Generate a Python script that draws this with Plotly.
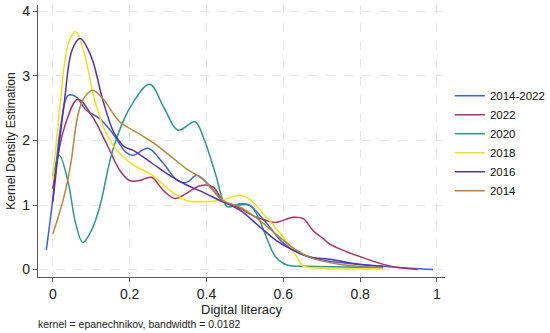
import plotly.graph_objects as go

names = ["2014-2022", "2022", "2020", "2018", "2016", "2014"]
colors = ["#3f63e0", "#a8346a", "#2f9a86", "#f0e21a", "#5232b0", "#b8873c"]

x_all = [-0.017, 0.0, 0.02, 0.04, 0.06, 0.087, 0.122, 0.156, 0.19, 0.208, 0.248, 0.287, 0.325, 0.348,
         0.374, 0.39, 0.425, 0.44, 0.47, 0.51, 0.556, 0.60, 0.643, 0.687, 0.72, 0.78, 0.86, 0.93, 0.99]
y_all = [0.30, 1.1, 2.2, 2.7, 2.68, 2.47, 2.34, 2.11, 1.82, 1.77, 1.88, 1.65, 1.38, 1.35,
         1.46, 1.41, 1.18, 1.07, 1.0, 1.0, 0.72, 0.41, 0.25, 0.17, 0.13, 0.09, 0.05, 0.02, 0.0]

x_2022 = [0, 0.03, 0.065, 0.1, 0.14, 0.174, 0.2, 0.226, 0.257, 0.287, 0.318, 0.348, 0.383, 0.417,
          0.443, 0.487, 0.52, 0.556, 0.58, 0.626, 0.652, 0.678, 0.704, 0.72, 0.8, 0.88, 0.95]
y_2022 = [1.25, 2.2, 2.64, 2.4, 1.95, 1.54, 1.38, 1.38, 1.43, 1.23, 1.1, 1.18, 1.3, 1.28,
          1.07, 0.95, 0.84, 0.76, 0.73, 0.81, 0.79, 0.6, 0.48, 0.4, 0.2, 0.05, 0.0]

x_2020 = [0, 0.017, 0.04, 0.06, 0.078, 0.1, 0.122, 0.156, 0.2, 0.252, 0.29, 0.326, 0.37, 0.395,
          0.404, 0.426, 0.443, 0.456, 0.487, 0.513, 0.535, 0.556, 0.58, 0.61, 0.67, 0.76, 0.86]
y_2020 = [1.45, 1.77, 1.35, 0.7, 0.42, 0.6, 0.97, 1.85, 2.5, 2.87, 2.5, 2.16, 2.29, 2.0,
          1.85, 1.43, 1.07, 0.97, 1.02, 1.0, 0.81, 0.5, 0.2, 0.07, 0.05, 0.04, 0.03]

x_2018 = [0, 0.02, 0.04, 0.059, 0.08, 0.11, 0.14, 0.174, 0.218, 0.26, 0.304, 0.348, 0.382, 0.435,
          0.487, 0.51, 0.556, 0.60, 0.636, 0.65, 0.7, 0.86]
y_2018 = [1.4, 2.6, 3.5, 3.69, 3.4, 2.6, 2.1, 1.80, 1.59, 1.46, 1.23, 1.07, 1.05, 1.07,
          1.15, 1.1, 0.81, 0.5, 0.19, 0.06, 0.02, 0.01]

x_2016 = [0, 0.03, 0.05, 0.071, 0.1, 0.13, 0.16, 0.187, 0.208, 0.26, 0.304, 0.348, 0.383, 0.435,
          0.487, 0.539, 0.582, 0.626, 0.67, 0.72, 0.8, 0.86]
y_2016 = [1.05, 2.6, 3.4, 3.58, 3.3, 2.63, 2.11, 1.9, 1.85, 1.64, 1.46, 1.31, 1.22, 1.07,
          0.92, 0.66, 0.45, 0.3, 0.19, 0.16, 0.08, 0.05]

x_2014 = [0, 0.03, 0.048, 0.064, 0.08, 0.104, 0.13, 0.174, 0.226, 0.26, 0.304, 0.348, 0.39, 0.443,
          0.487, 0.539, 0.591, 0.634, 0.678, 0.75, 0.86]
y_2014 = [0.55, 1.15, 1.69, 2.36, 2.65, 2.78, 2.65, 2.29, 2.1, 1.97, 1.77, 1.56, 1.4, 1.07,
          0.97, 0.76, 0.5, 0.3, 0.17, 0.08, 0.03]

xs = [x_all, x_2022, x_2020, x_2018, x_2016, x_2014]
ys = [y_all, y_2022, y_2020, y_2018, y_2016, y_2014]

x_ticks = [0, 0.2, 0.4, 0.6, 0.8, 1]
x_ticklabels = ["0", "0.2", "0.4", "0.6", "0.8", "1"]
y_ticks = [0, 1, 2, 3, 4]

fig = go.Figure()
for n, c, x, y in zip(names, colors, xs, ys):
    fig.add_trace(go.Scatter(x=x, y=y, name=n, mode="lines",
                             line=dict(color=c, width=1.5, shape="spline", smoothing=1.0)))

font = "Liberation Sans, Arial, sans-serif"
fig.update_layout(
    width=550, height=333,
    margin=dict(l=38, r=105, t=5, b=56, autoexpand=False),
    paper_bgcolor="white", plot_bgcolor="white",
    font=dict(family=font, size=13, color="#222"),
    showlegend=True,
    legend=dict(x=1.012, y=0.72, xanchor="left", yanchor="top",
                font=dict(size=11.5, color="#111"), itemwidth=30,
                tracegroupgap=0, bgcolor="rgba(0,0,0,0)"),
    xaxis=dict(range=[-0.0386, 1.021], tickvals=x_ticks, ticktext=x_ticklabels,
               showline=True, linecolor="#555", linewidth=1.2, ticks="outside",
               ticklen=4, tickcolor="#555", showgrid=True, gridcolor="#e6e6e6",
               griddash="dash", gridwidth=1, zeroline=False, automargin=False,
               tickfont=dict(size=14),
               title=dict(text="Digital literacy", font=dict(size=13), standoff=2)),
    yaxis=dict(range=[-0.115, 4.10], tickvals=y_ticks,
               showline=True, linecolor="#555", linewidth=1.2, ticks="outside",
               ticklen=4, tickcolor="#555", showgrid=True, gridcolor="#e6e6e6",
               griddash="dash", gridwidth=1, zeroline=False, automargin=False,
               tickfont=dict(size=14),
               title=dict(text="Kernel Density Estimation", font=dict(size=12), standoff=4)),
)
fig.add_annotation(text="kernel = epanechnikov, bandwidth = 0.0182", xref="paper", yref="paper",
                   x=-0.005, y=-0.172, yanchor="middle", xanchor="left", showarrow=False,
                   font=dict(size=10.5, color="#222"))
fig.write_html("out.html", config={"displayModeBar": False},
               post_script="document.body.style.margin='0';")
